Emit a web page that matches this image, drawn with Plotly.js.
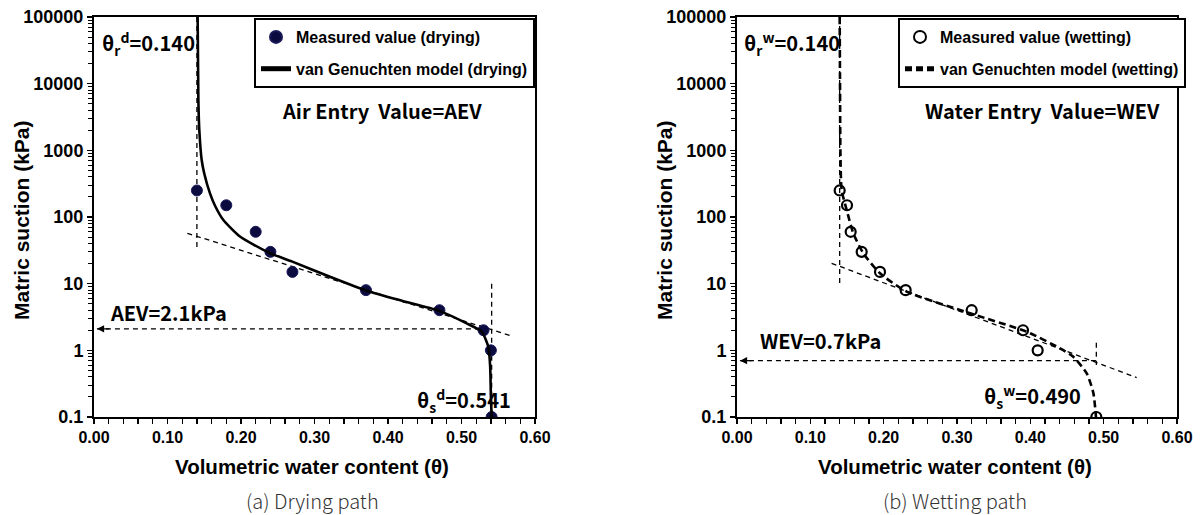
<!DOCTYPE html>
<html>
<head>
<meta charset="utf-8">
<script src="https://cdn.plot.ly/plotly-3.0.1.min.js"></script>
<style>html,body{margin:0;padding:0;background:#fff;}#chart{width:1203px;height:515px;}</style>
</head>
<body>
<div id="chart"></div>
<script>
// ---- Measured data (drying) ----
const dryTheta   = [0.140, 0.180, 0.220, 0.240, 0.270, 0.370, 0.470, 0.530, 0.540, 0.541];
const drySuction = [250, 150, 60, 30, 15, 8, 4, 2, 1, 0.1];
// ---- Measured data (wetting) ----
const wetTheta   = [0.140, 0.150, 0.155, 0.170, 0.195, 0.230, 0.320, 0.390, 0.410, 0.490];
const wetSuction = [250, 150, 60, 30, 15, 8, 4, 2, 1, 0.1];

// ---- van Genuchten model curves ----
const dryModelTheta   = [0.1410, 0.1420, 0.1433, 0.1465, 0.1500, 0.1578, 0.1650, 0.1760, 0.1986, 0.2385, 0.2690, 0.3210, 0.3710, 0.4200, 0.4685, 0.5070, 0.5275, 0.5365, 0.5390, 0.5400, 0.5410];
const dryModelSuction = [100000, 5700, 2000, 716, 450, 226, 145, 90, 51, 29, 21.6, 12.7, 7.85, 5.5, 3.94, 2.54, 1.9, 1.13, 0.57, 0.2, 0.1];
const wetModelTheta   = [0.1400, 0.1405, 0.1410, 0.1427, 0.1496, 0.1586, 0.1723, 0.1950, 0.2314, 0.3177, 0.3950, 0.4405, 0.4586, 0.4769, 0.4859, 0.4895];
const wetModelSuction = [100000, 10000, 1000, 254, 127, 57, 28.5, 14.3, 7.6, 3.6, 1.9, 1.07, 0.80, 0.45, 0.23, 0.1];

// ---- Construction lines ----
const dryResidTheta = [0.140, 0.140];  const dryResidSuction = [100000, 34];
const dryTanTheta   = [0.127, 0.568];  const dryTanSuction   = [57, 1.64];
const drySatTheta   = [0.541, 0.541];  const drySatSuction   = [10, 0.1];
const aevTheta      = [0.004, 0.541];  const aevSuction      = [2.1, 2.1];
const wetResidTheta = [0.140, 0.140];  const wetResidSuction = [100000, 9.5];
const wetTanTheta   = [0.129, 0.545];  const wetTanSuction   = [20.2, 0.39];
const wetSatTheta   = [0.490, 0.490];  const wetSatSuction   = [1.3, 0.6];
const wevTheta      = [0.004, 0.490];  const wevSuction      = [0.7, 0.7];

// ---- Tick labels ----
const yTickVals  = [0.1, 1, 10, 100, 1000, 10000, 100000];
const yTickText  = ["0.1", "1", "10", "100", "1000", "10000", "100000"];
const xTickVals  = [0, 0.1, 0.2, 0.3, 0.4, 0.5, 0.6];
const xTickText  = ["0.00", "0.10", "0.20", "0.30", "0.40", "0.50", "0.60"];

const W = 1203, H = 515;
const px = v => v / W, py = v => 1 - v / H;
const BOLD = "Liberation Sans, Arial, sans-serif";
const NARROW = "Liberation Sans Narrow, Arial Narrow, Liberation Sans, sans-serif";
const KR = "Noto Sans CJK KR, Noto Sans, sans-serif";

const guide = {color: "#000", width: 1.3, dash: "5px,4px"};

const traces = [
  // left panel
  {x: dryResidTheta, y: dryResidSuction, mode: "lines", line: guide, showlegend: false, hoverinfo: "skip", xaxis: "x", yaxis: "y"},
  {x: dryTanTheta, y: dryTanSuction, mode: "lines", line: guide, showlegend: false, hoverinfo: "skip", xaxis: "x", yaxis: "y"},
  {x: drySatTheta, y: drySatSuction, mode: "lines", line: guide, showlegend: false, hoverinfo: "skip", xaxis: "x", yaxis: "y"},
  {x: aevTheta, y: aevSuction, mode: "lines", line: guide, showlegend: false, hoverinfo: "skip", xaxis: "x", yaxis: "y"},
  {x: dryTheta, y: drySuction, mode: "markers", name: "Measured value (drying)",
   marker: {color: "#0b0b3f", size: 11, line: {color: "#1a1a5a", width: 1}},
   xaxis: "x", yaxis: "y", legend: "legend", legendgroup: "a"},
  {x: dryModelTheta, y: dryModelSuction, mode: "lines", name: "van Genuchten model (drying)",
   line: {color: "#000", width: 2.6, shape: "spline", smoothing: 0.6},
   xaxis: "x", yaxis: "y", legend: "legend", legendgroup: "b"},
  // right panel
  {x: wetResidTheta, y: wetResidSuction, mode: "lines", line: guide, showlegend: false, hoverinfo: "skip", xaxis: "x2", yaxis: "y2"},
  {x: wetTanTheta, y: wetTanSuction, mode: "lines", line: guide, showlegend: false, hoverinfo: "skip", xaxis: "x2", yaxis: "y2"},
  {x: wetSatTheta, y: wetSatSuction, mode: "lines", line: guide, showlegend: false, hoverinfo: "skip", xaxis: "x2", yaxis: "y2"},
  {x: wevTheta, y: wevSuction, mode: "lines", line: guide, showlegend: false, hoverinfo: "skip", xaxis: "x2", yaxis: "y2"},
  {x: wetTheta, y: wetSuction, mode: "markers", name: "Measured value (wetting)",
   marker: {color: "rgba(255,255,255,0)", size: 10, line: {color: "#000", width: 2.2}},
   xaxis: "x2", yaxis: "y2", legend: "legend2", legendgroup: "c"},
  {x: wetModelTheta, y: wetModelSuction, mode: "lines", name: "van Genuchten model (wetting)",
   line: {color: "#000", width: 2.6, dash: "7px,4px", shape: "spline", smoothing: 0.6},
   xaxis: "x2", yaxis: "y2", legend: "legend2", legendgroup: "d"}
];

function xax(dom, anchor) {
  return {
    domain: dom, anchor: anchor, range: [0, 0.6],
    tickmode: "array", tickvals: xTickVals, ticktext: xTickText,
    ticks: "outside", ticklen: 5, tickwidth: 1.3, tickcolor: "#000",
    minor: {dtick: 0.02, tick0: 0, ticks: "outside", ticklen: 5, tickwidth: 1.3, tickcolor: "#000", showgrid: false},
    showline: true, linewidth: 2, linecolor: "#000", mirror: true,
    showgrid: false, zeroline: false,
    tickfont: {family: NARROW, size: 16, color: "#000", weight: "bold"}
  };
}
function yax(anchor) {
  return {
    domain: [py(417), py(17)], anchor: anchor, type: "log", range: [-1, 5],
    tickmode: "array", tickvals: yTickVals, ticktext: yTickText,
    ticks: "outside", ticklen: 5, tickwidth: 1.3, tickcolor: "#000",
    minor: {dtick: "D1", ticks: "outside", ticklen: 4, tickwidth: 1, tickcolor: "#000", showgrid: false},
    showline: true, linewidth: 2, linecolor: "#000", mirror: true,
    showgrid: false, zeroline: false,
    tickfont: {family: BOLD, size: 18, color: "#000", weight: "bold"}
  };
}

const annFont = {family: KR, size: 20, color: "#000", weight: "bold"};
function txt(t, x, y, extra) {
  return Object.assign({text: t, xref: "paper", yref: "paper", x: px(x), y: py(y),
    xanchor: "left", yanchor: "middle", showarrow: false, font: annFont}, extra || {});
}
function arrowHead(xr, yr, yv) {
  return {xref: xr, yref: yr, x: 0.004, y: Math.log10(yv), ax: 14, ay: 0, text: "",
    showarrow: true, arrowhead: 2, arrowsize: 1.2, arrowwidth: 1.2, arrowcolor: "#000", standoff: 0};
}
const legFont = {family: BOLD, size: 16, color: "#000", weight: "bold"};

const layout = {
  width: W, height: H, margin: {l: 0, r: 0, t: 0, b: 0},
  paper_bgcolor: "#fff", plot_bgcolor: "#fff",
  xaxis: xax([px(94), px(535)], "y"),
  yaxis: yax("x"),
  xaxis2: xax([px(737), px(1177)], "y2"),
  yaxis2: yax("x2"),
  legend: {x: px(254), y: py(18), xanchor: "left", yanchor: "top", bgcolor: "#fff",
    bordercolor: "#000", borderwidth: 2, traceorder: "grouped", tracegroupgap: 8,
    font: legFont, itemsizing: "constant"},
  legend2: {x: px(898), y: py(18), xanchor: "left", yanchor: "top", bgcolor: "#fff",
    bordercolor: "#000", borderwidth: 2, traceorder: "grouped", tracegroupgap: 8,
    font: legFont, itemsizing: "constant"},
  annotations: [
    txt("θ<sub>r</sub><sup>d</sup>=0.140", 100, 43),
    txt("Air Entry  Value=AEV", 280, 110),
    txt("AEV=2.1kPa", 108, 312),
    txt("θ<sub>s</sub><sup>d</sup>=0.541", 415, 400),
    txt("θ<sub>r</sub><sup>w</sup>=0.140", 742, 43),
    txt("Water Entry  Value=WEV", 923, 110),
    txt("WEV=0.7kPa", 758, 340),
    txt("θ<sub>s</sub><sup>w</sup>=0.490", 982, 396),
    txt("Volumetric water content (θ)", 312, 466, {xanchor: "center", font: {family: NARROW, size: 20.5, color: "#000", weight: "bold"}}),
    txt("Volumetric water content (θ)", 955, 466, {xanchor: "center", font: {family: NARROW, size: 20.5, color: "#000", weight: "bold"}}),
    txt("Matric suction (kPa)", 21, 220, {xanchor: "center", textangle: -90, font: {family: BOLD, size: 21, color: "#000", weight: "bold"}}),
    txt("Matric suction (kPa)", 664, 220, {xanchor: "center", textangle: -90, font: {family: BOLD, size: 21, color: "#000", weight: "bold"}}),
    txt("(a) Drying path", 312, 500, {xanchor: "center", font: {family: KR, size: 20, color: "#333", weight: 300}}),
    txt("(b) Wetting path", 955, 500, {xanchor: "center", font: {family: KR, size: 20, color: "#333", weight: 300}}),
    arrowHead("x", "y", 2.1),
    arrowHead("x2", "y2", 0.7)
  ]
};

Plotly.newPlot("chart", traces, layout, {displayModeBar: false, staticPlot: true});
</script>
</body>
</html>
